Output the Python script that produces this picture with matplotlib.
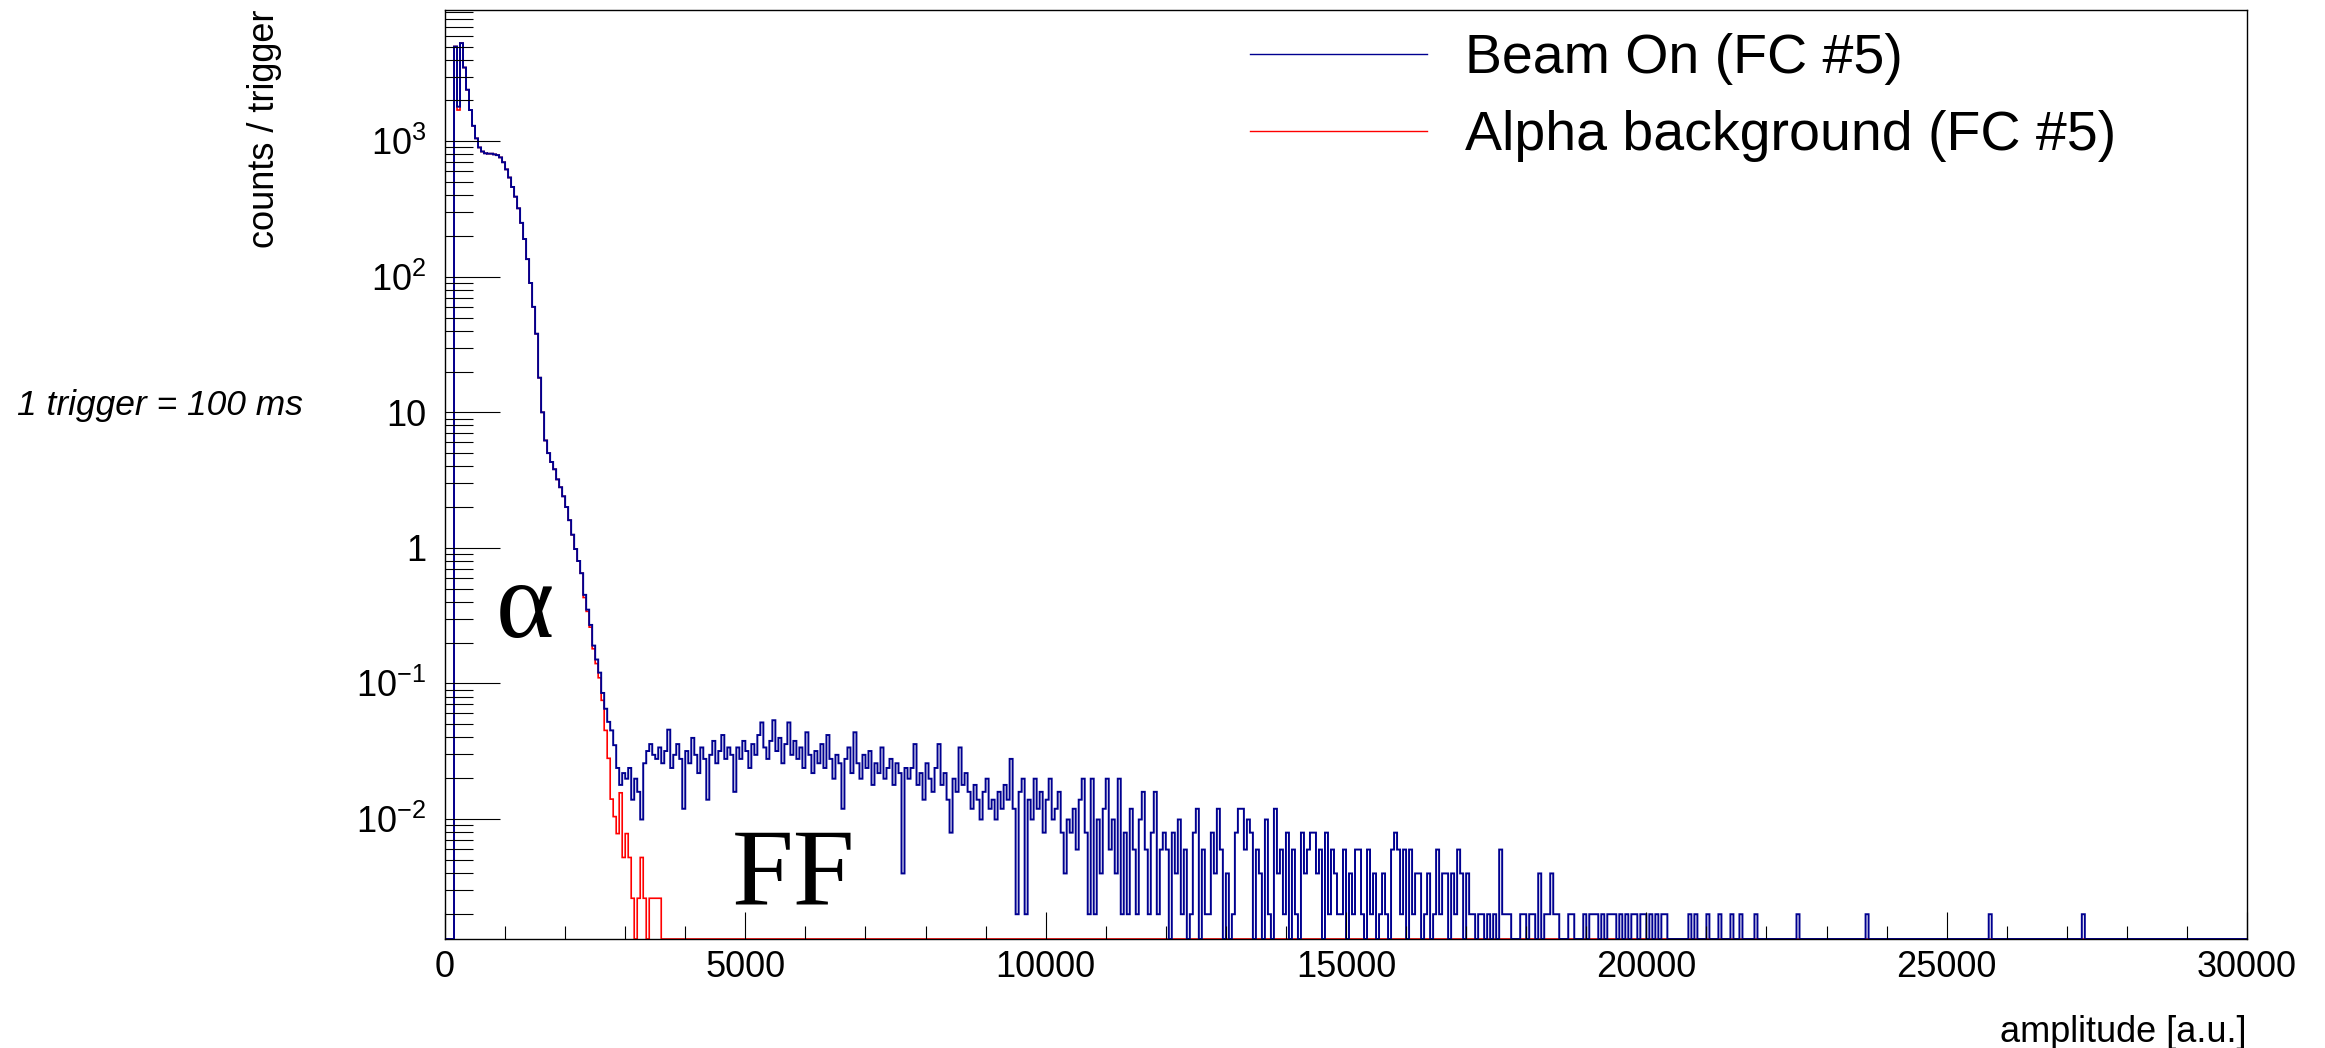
# Amplitude spectrum of FC #5: beam on vs. alpha background (ROOT-style look)
import numpy as np
import matplotlib
matplotlib.use('Agg')
import matplotlib.pyplot as plt
from matplotlib.lines import Line2D
from matplotlib.ticker import MultipleLocator, LogLocator, FixedLocator, FixedFormatter, NullFormatter

plt.rcParams['font.family'] = ['Liberation Sans', 'DejaVu Sans']
plt.rcParams['mathtext.fontset'] = 'custom'
plt.rcParams['mathtext.rm'] = 'Liberation Sans'
plt.rcParams['mathtext.it'] = 'Liberation Sans:italic'

# histogram binning (amplitude, a.u.)
BIN = 50
X_MAX = 30000

# number of triggers in each run (one count = 1/N per trigger)
N_BEAM = 505
N_ALPHA = 385

# alpha region 0 - 2850, counts / trigger, one value per 50-wide bin
beam_alpha = [0, 0, 0, 5000, 1800, 5300, 3500, 2400, 1700, 1300,
              1050, 900, 840, 815, 810, 810, 800, 790, 760, 700,
              620, 540, 460, 390, 320, 250, 190, 135, 90, 60,
              38, 18, 10, 6.2, 5.0, 4.3, 3.8, 3.2, 2.8, 2.4,
              2.0, 1.6, 1.25, 0.98, 0.80, 0.65, 0.45, 0.35, 0.27, 0.19,
              0.15, 0.12, 0.085, 0.065, 0.052, 0.045, 0.035]
alpha_alpha = [0, 0, 0, 5000, 1700, 5300, 3500, 2400, 1700, 1300,
               1050, 900, 840, 815, 810, 810, 800, 790, 760, 700,
               620, 540, 460, 390, 320, 250, 190, 135, 90, 60,
               38, 18, 10, 6.2, 5.0, 4.3, 3.8, 3.2, 2.8, 2.4,
               2.0, 1.6, 1.25, 0.98, 0.80, 0.65, 0.43, 0.34, 0.26, 0.18,
               0.14, 0.11, 0.075, 0.045, 0.028, 0.014, 0.0104]

# beam on, raw counts per bin from 2850 to 17600 (fission fragments)
beam_ff_counts = [
    12, 9, 11, 10, 12, 7, 10, 8, 5,                                   # 2850-3300
    13, 16, 18, 15,                                                   # 3300-3500
    14, 17, 13, 16, 23, 12, 15, 18, 14, 6, 16, 13, 20, 15, 11, 17,
    14, 7, 15, 19, 13, 16, 21, 14, 17,                                # 3500-4750
    15, 8, 17, 14, 19, 16, 12, 18, 15, 21, 26, 17, 14, 19, 27, 16,
    20, 13, 18, 26, 15, 19,                                           # 4750-5850
    14, 17, 12, 22, 15, 11, 16, 13, 18, 12, 21, 14, 10, 15, 13, 6,
    14, 17, 11, 22, 13, 10, 15, 12, 16, 9, 13, 11, 17, 10, 12, 14,
    9, 13, 11, 2, 12,                                                 # 5850-7700
    10, 12, 18, 9, 11, 7, 13, 10, 8, 12, 18, 9, 11, 7, 4, 10,
    8, 17, 9, 11,                                                     # 7700-8700
    8, 6, 9, 7, 5, 8, 10, 6, 7, 5, 8, 6, 9, 7, 14, 6,
    1, 8, 10, 1, 7, 5, 10, 6, 8, 4, 7, 10, 5, 6, 8, 4, 2,             # 8700-10350
    5, 4, 6, 3, 7, 10, 4, 1, 10, 1, 5, 2, 6, 10, 3, 5,
    2, 10, 1, 4, 1, 6, 3, 1, 5, 8, 3, 1, 4, 8, 1, 3, 4,               # 10350-12000
    3, 0, 4, 2, 5, 1, 3, 0, 1, 4, 6, 0, 3, 1, 1, 4,
    2, 6, 3, 0, 2, 0, 1, 4, 6,                                        # 12000-13250
    6, 3, 5, 4, 0, 3, 2, 0, 5, 1, 0, 6, 2, 3, 1, 4,
    0, 3, 1, 0, 4, 2, 3, 4, 4, 2, 3, 0, 4, 1, 3, 2, 1,                # 13250-14900
    1, 3, 0, 2, 1, 3, 3, 1, 0, 3, 1, 2, 0, 1, 2, 1,
    0, 3, 4, 3, 1, 3, 0, 3, 1, 2, 2, 0, 1, 2, 0, 1,
    3, 1, 2, 2, 0, 2, 1, 3, 2, 0, 2, 1,                               # 14900-17100
    1, 0, 1, 1, 0, 1, 0, 1, 0, 3,                                     # 17100-17600
]

# beam on, single events above 17600
beam_tail_hits = [17620, 17680, 17720, 17930, 17990, 18060, 18110, 18240, 18240,
                  18330, 18380, 18410, 18410, 18450, 18515, 18710, 18780, 18950,
                  19060, 19130, 19180, 19280, 19370, 19420, 19480, 19560, 19670,
                  19750, 19830, 19920, 19990, 20060, 20190, 20260, 20340, 20720,
                  20840, 21000, 21230, 21420, 21560, 21825, 22545, 23690, 25710,
                  27270]

# alpha background, raw counts per bin from 2850 on (zero afterwards)
alpha_tail_counts = [3, 6, 2, 3, 2, 1, 0, 1, 2, 1, 0, 1, 1, 1, 1]

Y_MIN, Y_MAX = 0.0013, 9300
y_ticks = [1e-2, 1e-1, 1, 10, 1e2, 1e3]
y_ticklabels = ['$10^{-2}$', '$10^{-1}$', '1', '10', '$10^{2}$', '$10^{3}$']

# build the histograms
edges = np.arange(0, X_MAX + BIN, BIN)
nb = len(edges) - 1

beam = np.zeros(nb)
beam[:len(beam_alpha)] = beam_alpha
i0 = len(beam_alpha)
beam[i0:i0 + len(beam_ff_counts)] = np.array(beam_ff_counts) / N_BEAM
hits, _ = np.histogram(beam_tail_hits, bins=edges)
beam += hits / N_BEAM

alpha = np.zeros(nb)
alpha[:len(alpha_alpha)] = alpha_alpha
alpha[i0:i0 + len(alpha_tail_counts)] = np.array(alpha_tail_counts) / N_ALPHA

# empty bins sit on the lower frame like in ROOT
beam_plot = np.where(beam > 0, beam, Y_MIN)
alpha_plot = np.where(alpha > 0, alpha, Y_MIN)

BLUE = '#000090'
RED = '#ff0000'

W, H = 2325, 1048
fig = plt.figure(figsize=(W / 100, H / 100), dpi=100)
ax = fig.add_axes([445 / W, 1 - 939 / H, (2247 - 445) / W, (939 - 10) / H])

ax.stairs(alpha_plot, edges, color=RED, lw=1.2, baseline=None)
ax.stairs(beam_plot, edges, color=BLUE, lw=1.4, baseline=None)

ax.set_yscale('log')
ax.set_xlim(0, X_MAX)
ax.set_ylim(Y_MIN, Y_MAX)

ax.xaxis.set_major_locator(MultipleLocator(5000))
ax.xaxis.set_minor_locator(MultipleLocator(1000))
ax.yaxis.set_major_locator(FixedLocator(y_ticks))
ax.yaxis.set_major_formatter(FixedFormatter(y_ticklabels))
ax.yaxis.set_minor_locator(LogLocator(base=10, subs=np.arange(2, 10), numticks=30))
ax.yaxis.set_minor_formatter(NullFormatter())

ax.tick_params(axis='both', which='both', direction='in', top=False, right=False,
               width=0.8, color='black', labelsize=26)
ax.tick_params(axis='x', which='major', length=19.4, pad=8)
ax.tick_params(axis='x', which='minor', length=9.7)
ax.tick_params(axis='y', which='major', length=39.6, pad=13.5)
ax.tick_params(axis='y', which='minor', length=20)
for s in ax.spines.values():
    s.set_linewidth(1.0)

# axis titles placed the ROOT way
fig.text(2247 / W, 1 - 1032 / H, 'amplitude [a.u.]', ha='right', va='center', fontsize=26)
fig.text(265 / W, 1 - 10 / H, 'counts / trigger', rotation=90, ha='center', va='top', fontsize=26)
fig.text(17 / W, 1 - 405 / H, '1 trigger = 100 ms', ha='left', va='center',
         fontsize=25.5, style='italic')

ax.text(0.0444, 0.354, '\u03b1', transform=ax.transAxes, ha='center', va='center',
        fontsize=80, family='Liberation Serif')
ax.text(0.1937, 0.0657, 'FF', transform=ax.transAxes, ha='center', va='center',
        fontsize=80, family='Liberation Serif')

handles = [Line2D([], [], color=BLUE, lw=1.0),
           Line2D([], [], color=RED, lw=1.0)]
ax.legend(handles, ['Beam On (FC #5)', 'Alpha background (FC #5)'],
          loc='upper left', bbox_to_anchor=(1250 / W, 1 - 33 / H),
          bbox_transform=fig.transFigure, frameon=False, fontsize=40,
          handlelength=3.19, handletextpad=0.68, labelspacing=0.45,
          borderpad=0, borderaxespad=0)

fig.savefig('out.png', dpi=100)
